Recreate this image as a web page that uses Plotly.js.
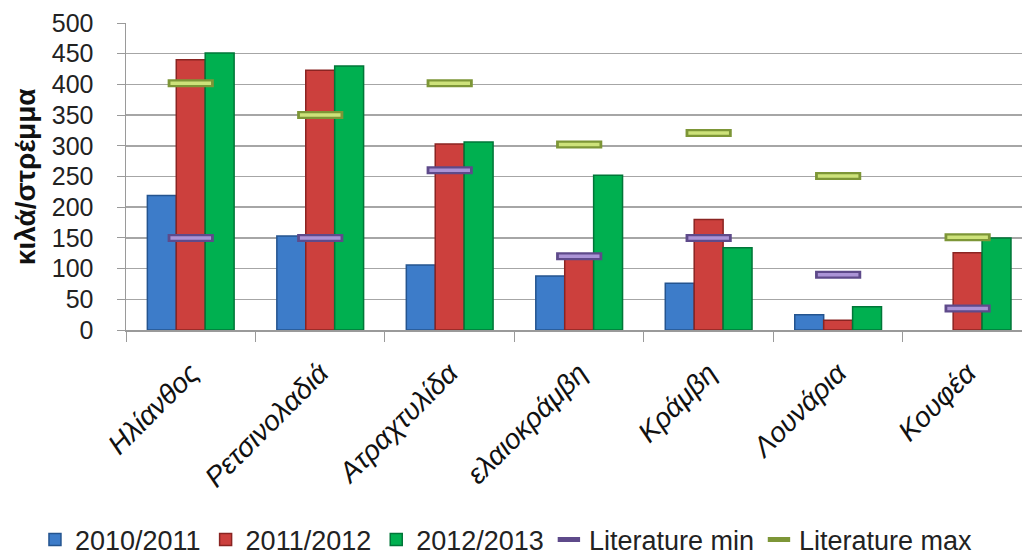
<!DOCTYPE html>
<html>
<head>
<meta charset="utf-8">
<script src="https://cdn.plot.ly/plotly-3.0.1.min.js"></script>
<style>html,body{margin:0;padding:0;background:#fff;}#chart{width:1025px;height:557px;}</style>
</head>
<body>
<div id="chart"></div>
<script>
const categories = ["Ηλίανθος", "Ρετσινολαδιά", "Ατραχτυλίδα", "ελαιοκράμβη", "Κράμβη", "Λουνάρια", "Κουφέα"];
const season2010 = [219, 153, 106, 88, 76, 25, null];
const season2011 = [440, 423, 303, 120, 180, 16, 126];
const season2012 = [451, 430, 306, 252, 134, 38, 150];
const literatureMin = [150, 150, 260, 120, 150, 90, 35];
const literatureMax = [402, 350, 402, 302, 321, 251, 151];
const yTicks = [0, 50, 100, 150, 200, 250, 300, 350, 400, 450, 500];
const yTitle = "κιλά/στρέμμα";

const barTrace = (name, y, fill, edge) => ({
  type: 'bar', name: name, x: categories, y: y,
  marker: {color: fill, line: {color: edge, width: 1.5}},
  hoverinfo: 'y+name'
});
const litOuter = (name, y, edge, show) => ({
  type: 'scatter', mode: 'markers', name: name, x: categories, y: y,
  showlegend: show,
  marker: {symbol: 'line-ew', size: 33, line: {color: edge, width: 8}},
  hoverinfo: 'y+name'
});
const litInner = (name, y, fill) => ({
  type: 'scatter', mode: 'markers', name: name, x: categories, y: y,
  showlegend: false,
  marker: {symbol: 'line-ew', size: 29, line: {color: fill, width: 3.5}},
  hoverinfo: 'skip'
});

const data = [
  barTrace('2010/2011', season2010, '#3D7CC9', '#24548F'),
  barTrace('2011/2012', season2011, '#CC403D', '#8A2422'),
  barTrace('2012/2013', season2012, '#00B050', '#007638'),
  litOuter('Literature min', literatureMin, '#5E4A8A', true),
  litInner('Literature min', literatureMin, '#AB94D6'),
  litOuter('Literature max', literatureMax, '#7D9637', true),
  litInner('Literature max', literatureMax, '#CDE27A')
];

const layout = {
  width: 1025, height: 557,
  margin: {l: 126, r: 3, t: 23, b: 227, autoexpand: false},
  paper_bgcolor: '#fff', plot_bgcolor: '#fff',
  barmode: 'group', bargap: 0.33, bargroupgap: 0,
  showlegend: true,
  legend: {
    orientation: 'h', x: -0.1016, xanchor: 'left', y: -0.684, yanchor: 'middle',
    font: {family: 'Liberation Sans, sans-serif', size: 27, color: '#222'},
    itemwidth: 30, tracegroupgap: 0
  },
  xaxis: {
    type: 'category', range: [-0.5, 6.42], automargin: false,
    tickangle: -45, tickson: 'boundaries', ticks: 'outside', ticklen: 10, tickcolor: '#9a9a9a',
    ticklabelstandoff: 14,
    showline: true, linecolor: '#9a9a9a', linewidth: 1.5,
    showgrid: false,
    tickfont: {family: 'Liberation Sans, sans-serif', size: 28, color: '#111', style: 'italic'}
  },
  yaxis: {
    range: [0, 500], tickvals: yTicks, ticktext: yTicks.map(String), automargin: false,
    showline: true, linecolor: '#9a9a9a', linewidth: 1.5,
    ticks: 'outside', ticklen: 8, tickcolor: '#9a9a9a', ticklabelstandoff: 18,
    gridcolor: '#a6a6a6', gridwidth: 1.5, zeroline: false,
    tickfont: {family: 'Liberation Sans, sans-serif', size: 25, color: '#222'}
  },
  annotations: [{
    text: '<b>' + yTitle + '</b>', xref: 'paper', yref: 'paper', x: -0.112, y: 0.5,
    xanchor: 'center', yanchor: 'middle', textangle: -90, showarrow: false,
    font: {family: 'Liberation Sans, sans-serif', size: 28, color: '#111'}
  }]
};

Plotly.newPlot('chart', data, layout, {displayModeBar: false, staticPlot: true});
</script>
</body>
</html>
